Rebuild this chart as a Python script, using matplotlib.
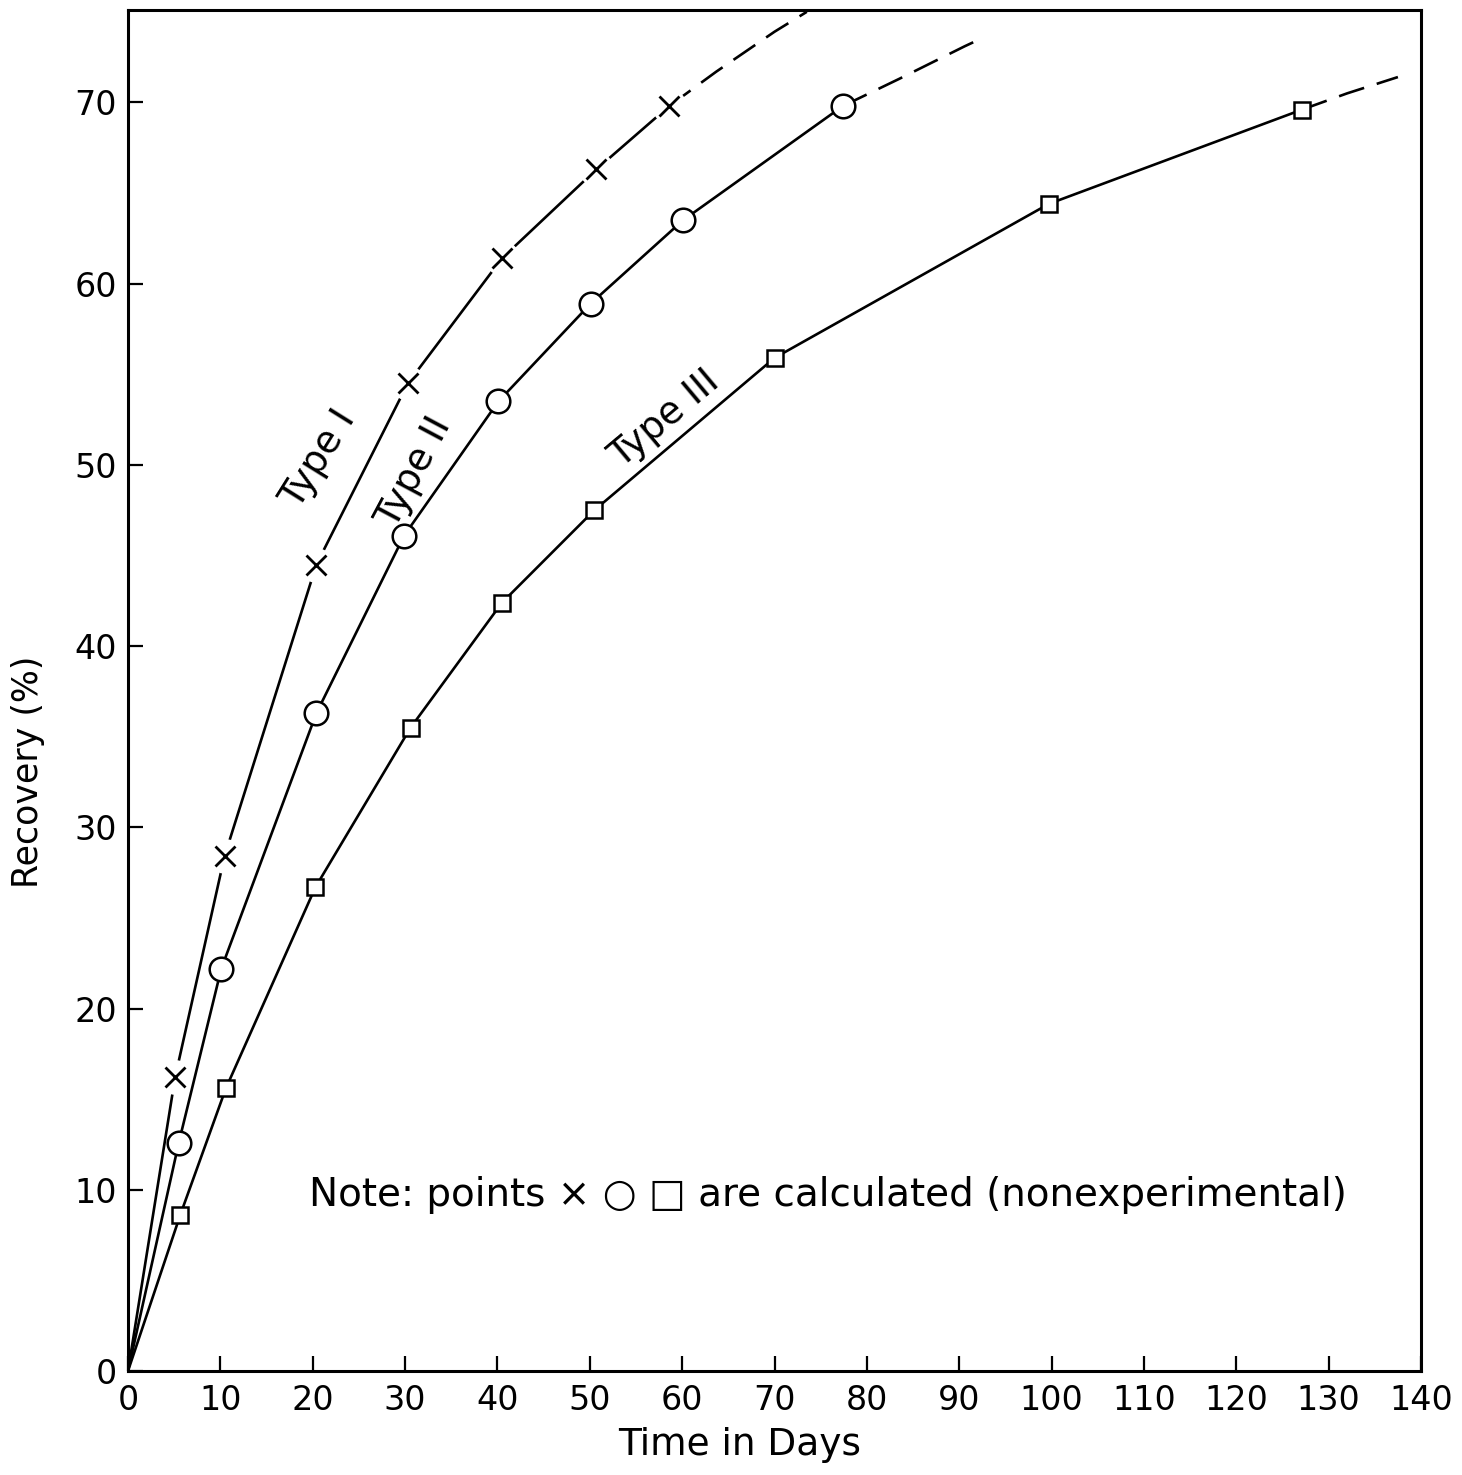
import matplotlib
matplotlib.use('Agg')
import matplotlib.pyplot as plt

# ---- data ----
type1_days = [5.1, 10.45, 20.4, 30.3, 40.5, 50.7, 58.6]
type1_rec = [16.2, 28.4, 44.5, 54.5, 61.4, 66.3, 69.8]
type1_ext_days = [58.6, 63.7, 70.0, 73.5]
type1_ext_rec = [69.8, 71.7, 73.9, 75.0]

type2_days = [5.5, 10.1, 20.4, 29.9, 40.1, 50.1, 60.1, 77.4]
type2_rec = [12.6, 22.2, 36.3, 46.1, 53.5, 58.9, 63.5, 69.8]
type2_ext_days = [77.4, 83.5, 90.6, 92.7]
type2_ext_rec = [69.8, 71.3, 73.1, 73.6]

type3_days = [5.65, 10.6, 20.3, 30.6, 40.5, 50.5, 70.0, 99.7, 127.1]
type3_rec = [8.6, 15.6, 26.7, 35.5, 42.4, 47.5, 55.9, 64.4, 69.6]
type3_ext_days = [127.1, 132.0, 137.5]
type3_ext_rec = [69.6, 70.5, 71.4]

x_ticks = [0, 10, 20, 30, 40, 50, 60, 70, 80, 90, 100, 110, 120, 130, 140]
y_ticks = [0, 10, 20, 30, 40, 50, 60, 70]

FONT = 'DejaVu Sans'
plt.rcParams['font.family'] = [FONT]

W, H = 1462, 1475
fig = plt.figure(figsize=(W / 100, H / 100), dpi=100)
left, right, top, bottom = 128, 1421, 10, 1371
ax = fig.add_axes([left / W, 1 - bottom / H, (right - left) / W, (bottom - top) / H])

ax.set_xlim(0, 140)
ax.set_ylim(0, 75.1)

lw = 1.9
# Type I : line with gaps around the crosses
ax.plot([0] + type1_days, [0] + type1_rec, color='black', lw=lw, zorder=2)
ax.plot(type1_ext_days, type1_ext_rec, color='black', lw=lw, ls=(0, (10, 5)), zorder=2)
ax.plot(type1_days, type1_rec, ls='none', marker='o', ms=25, mfc='white', mec='none', zorder=2.5)
ax.plot(type1_days, type1_rec, ls='none', marker='x', ms=15, mew=2.0, color='black', zorder=3)

# Type II : circles
ax.plot([0] + type2_days, [0] + type2_rec, color='black', lw=lw, zorder=4)
ax.plot(type2_ext_days, type2_ext_rec, color='black', lw=lw, ls=(0, (10, 5)), zorder=4)
ax.plot(type2_days, type2_rec, ls='none', marker='o', ms=17, mfc='white', mec='black', mew=1.8, zorder=5)

# Type III : squares
ax.plot([0] + type3_days, [0] + type3_rec, color='black', lw=lw, zorder=6)
ax.plot(type3_ext_days, type3_ext_rec, color='black', lw=lw, ls=(0, (10, 5)), zorder=6)
ax.plot(type3_days, type3_rec, ls='none', marker='s', ms=12, mfc='white', mec='black', mew=1.8, zorder=7)

# curve labels
ax.text(20.6, 50.3, 'Type I', rotation=58, ha='center', va='center', fontsize=27,
        rotation_mode='anchor', zorder=8)
ax.text(31.0, 49.6, 'Type II', rotation=62, ha='center', va='center', fontsize=27,
        rotation_mode='anchor', zorder=8)
ax.text(58.1, 52.5, 'Type III', rotation=40, ha='center', va='center', fontsize=27,
        rotation_mode='anchor', zorder=8)

ax.text(75.8, 9.7, 'Note: points \u00d7 \u25cb \u25a1 are calculated (nonexperimental)',
        ha='center', va='center', fontsize=28)

# axes styling
for s in ax.spines.values():
    s.set_linewidth(2.2)
ax.set_xticks(x_ticks)
ax.set_yticks(y_ticks)
ax.set_xticklabels([str(v) for v in x_ticks])
ax.set_yticklabels([str(v) for v in y_ticks])
ax.tick_params(direction='in', length=11, width=1.6, labelsize=24)
ax.tick_params(axis='x', pad=9)
ax.tick_params(axis='y', pad=8)

fig.text(28 / W, 1 - 772 / H, 'Recovery (%)', rotation=90, ha='center', va='center', fontsize=25)
fig.text(740 / W, 1 - 1445 / H, 'Time in Days', ha='center', va='center', fontsize=27)

fig.savefig('out.png', dpi=100, facecolor='white')
